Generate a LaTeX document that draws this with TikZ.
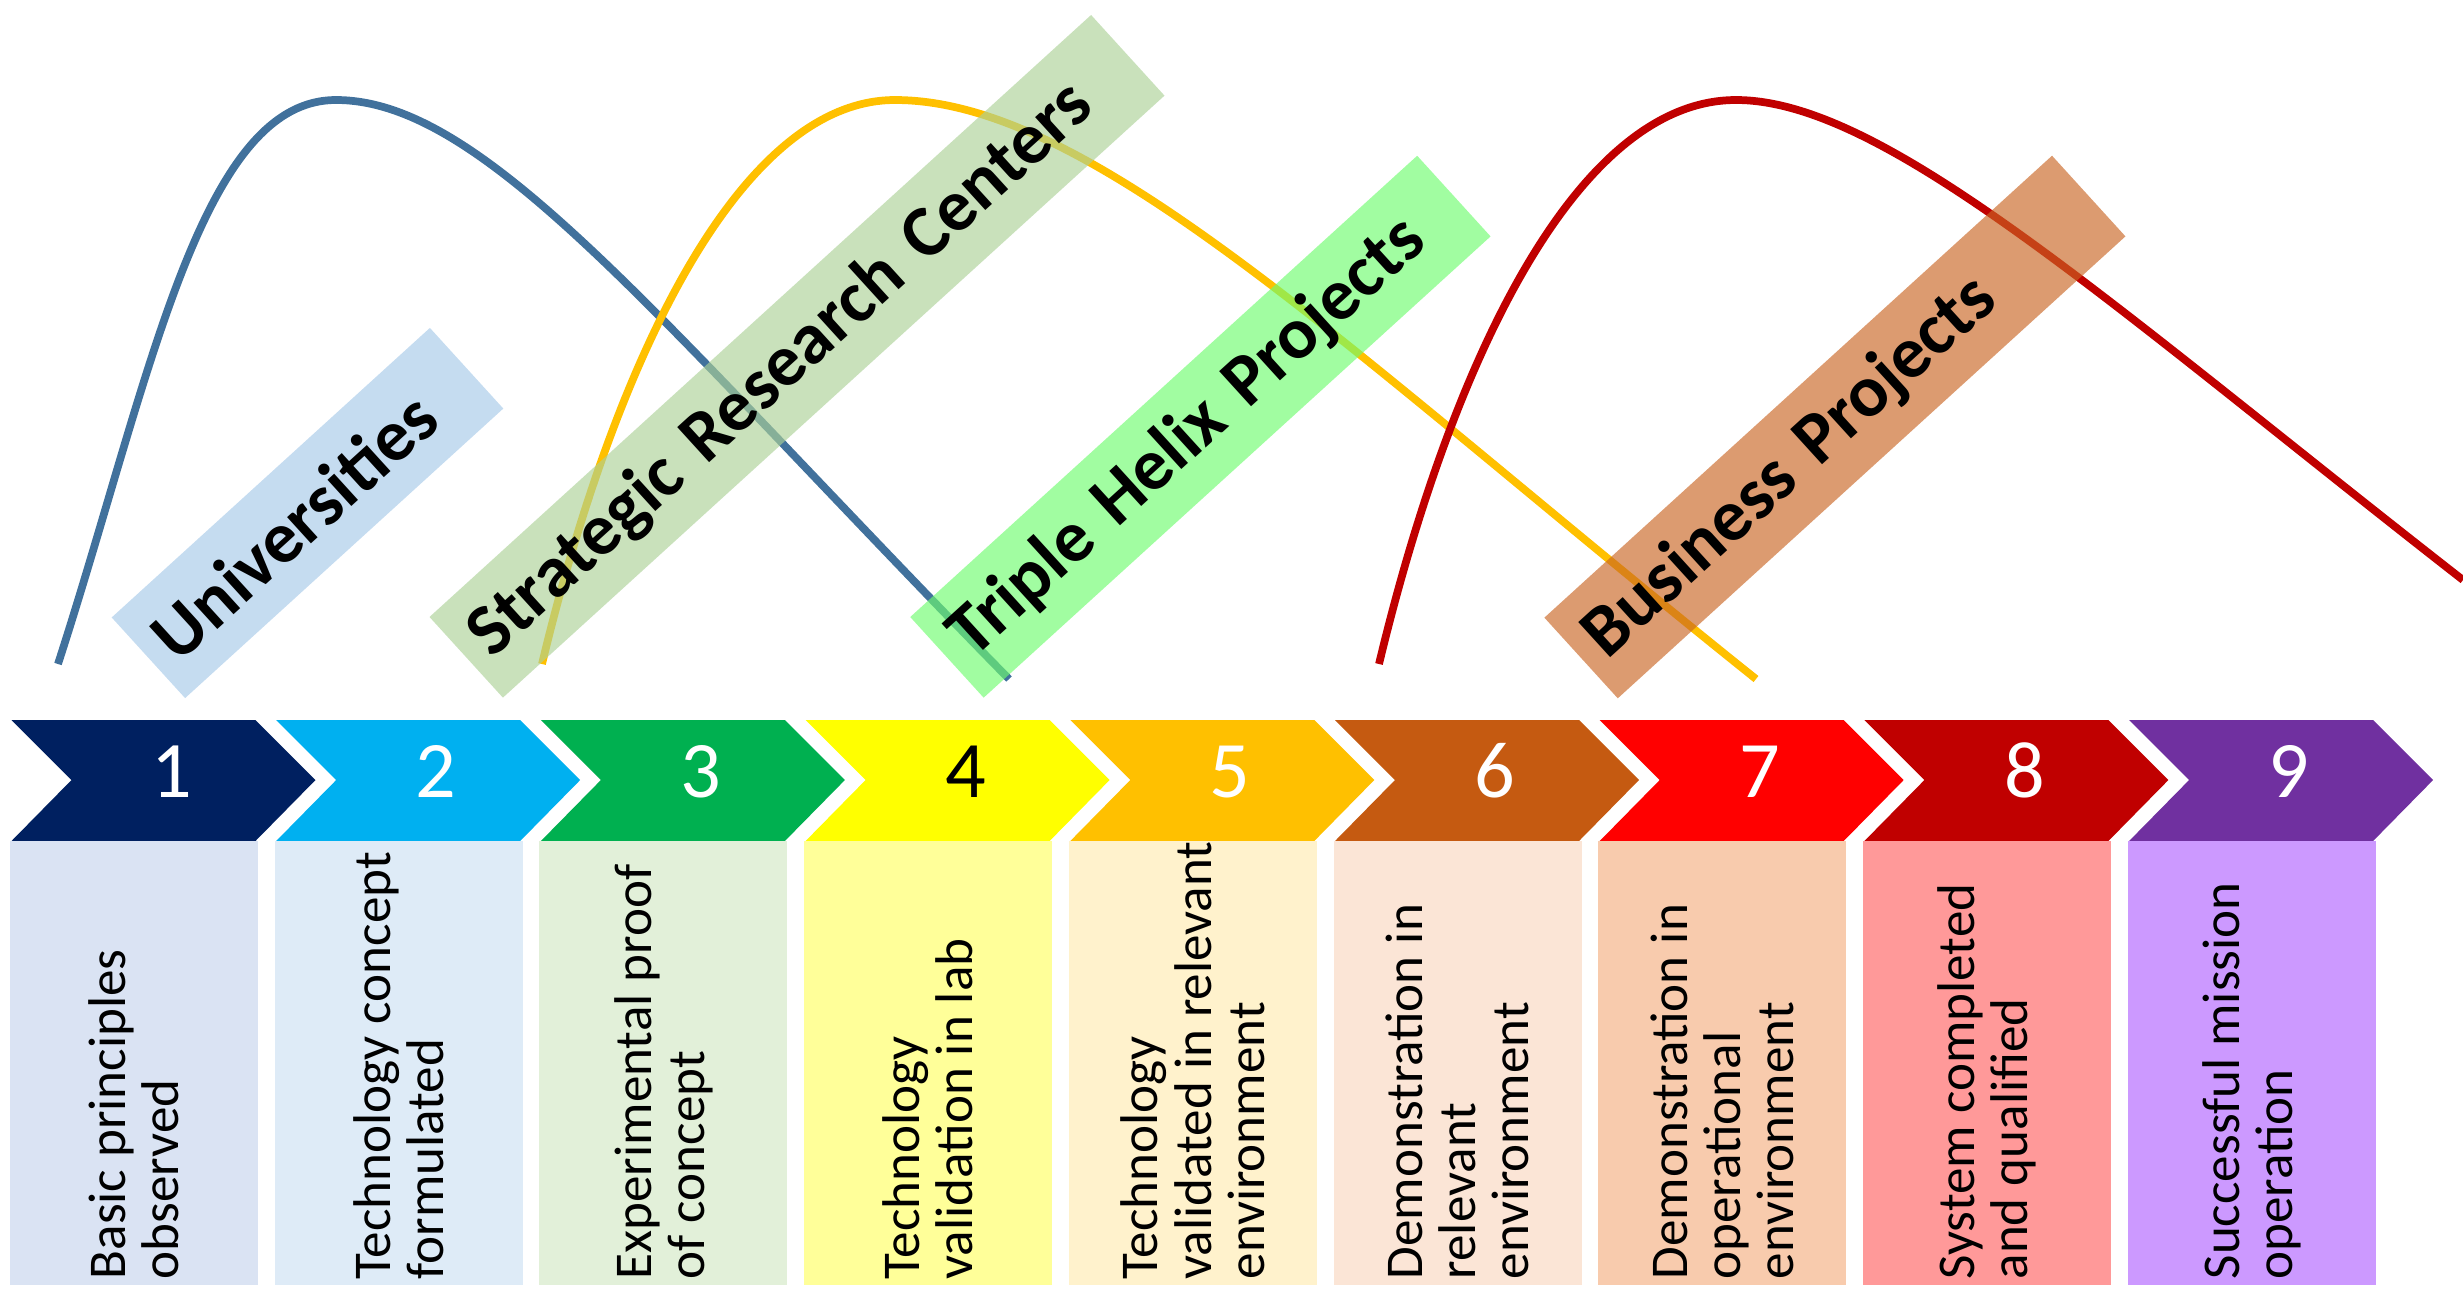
\documentclass[tikz,border=0pt]{standalone}
\usepackage{fontspec}
\setmainfont{Carlito}
\usepackage{tikz}

\definecolor{univblue}{HTML}{41719C}
\definecolor{srcyellow}{HTML}{FFC000}
\definecolor{bizred}{HTML}{C00000}
\definecolor{univband}{HTML}{A6C9E8}
\definecolor{srcband}{HTML}{ACD197}
\definecolor{helixband}{HTML}{6EFC6E}
\definecolor{bizband}{HTML}{C96523}
\definecolor{trl1}{HTML}{002060}
\definecolor{trl2}{HTML}{00B0F0}
\definecolor{trl3}{HTML}{00B050}
\definecolor{trl4}{HTML}{FFFF00}
\definecolor{trl5}{HTML}{FFC000}
\definecolor{trl6}{HTML}{C55A11}
\definecolor{trl7}{HTML}{FF0000}
\definecolor{trl8}{HTML}{C00000}
\definecolor{trl9}{HTML}{7030A0}
\definecolor{pale1}{HTML}{DAE3F3}
\definecolor{pale2}{HTML}{DEEBF7}
\definecolor{pale3}{HTML}{E2F0D9}
\definecolor{pale4}{HTML}{FFFF99}
\definecolor{pale5}{HTML}{FFF2CC}
\definecolor{pale6}{HTML}{FBE5D6}
\definecolor{pale7}{HTML}{F8CBAD}
\definecolor{pale8}{HTML}{FF9999}
\definecolor{pale9}{HTML}{CC99FF}

\begin{document}
\begin{tikzpicture}[x=0.01cm,y=-0.01cm,
    curve/.style={line width=2.2pt},
    bandbox/.style={rotate=42.3,fill opacity=0.65,text opacity=1,inner xsep=0.18cm,inner ysep=0pt,
        minimum height=1.09cm,align=left,font=\fontsize{20.8}{24}\bfseries\selectfont},
    numtext/.style={anchor=base,font=\fontsize{22.8}{27}\selectfont},
    steptext/.style={rotate=90,anchor=west,align=left,inner sep=0pt,font=\fontsize{15.1}{15.1}\selectfont}]

\useasboundingbox (0,0) rectangle (2463,1290);

% actor curves
\draw[curve,univblue] (58,664) .. controls (150,380) and (200,100) .. (336,100)
    .. controls (486,100) and (659,322) .. (1009,679);
\draw[curve,srcyellow] (542,664) .. controls (615,360) and (740,100) .. (895,100)
    .. controls (1095,100) and (1356,359) .. (1756,679);
\draw[curve,bizred] (1379,664) .. controls (1452,360) and (1577,100) .. (1736,100)
    .. controls (1886,100) and (2113,307) .. (2463,580);

% actor bands
\node[bandbox,fill=univband,text width=3.94cm] (univ) at (307.5,513) {Universities};
\node[bandbox,fill=srcband,text width=8.58cm] (src) at (797,356.3) {Strategic Research Centers};
\node[bandbox,fill=helixband,text width=6.49cm] (helix) at (1200.4,426.7) {Triple Helix Projects};
\node[bandbox,fill=bizband,text width=6.5cm] (biz) at (1834.9,427) {Business Projects};

% readiness levels
\foreach \i/\ink/\txt in {
    1/white/{Basic principles\\observed},
    2/white/{Technology concept\\formulated},
    3/white/{Experimental proof\\of concept},
    4/black/{Technology\\validation in lab},
    5/white/{Technology\\validated in relevant\\environment},
    6/white/{Demonstration in\\relevant\\environment},
    7/white/{Demonstration in\\operational\\environment},
    8/white/{System completed\\and qualified},
    9/white/{Successful mission\\operation}}{
    \pgfmathsetmacro\xo{11.5+(\i-1)*264.7}
    \fill[trl\i] (\xo,720) -- ++(244,0) -- ++(60,60) -- ++(-60,61) -- ++(-244,0) -- ++(60,-61) -- cycle;
    \fill[pale\i] (\xo-1.5,841) rectangle ++(248,444);
    \node[numtext,text=\ink] (num\i) at (\xo+160,797) {\i};
    \node[steptext] (step\i) at (\xo+122.5,1280) {\txt};
}
\end{tikzpicture}
\end{document}
